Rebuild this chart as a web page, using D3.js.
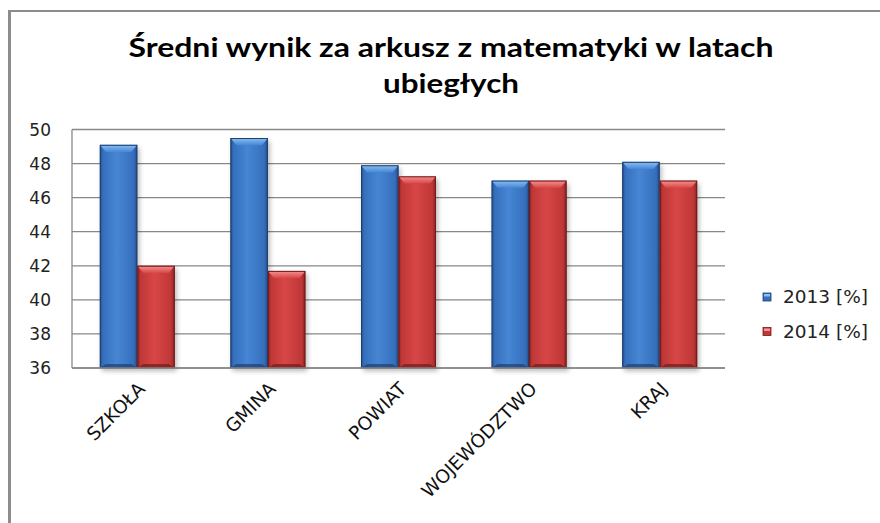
<!DOCTYPE html>
<html>
<head>
<meta charset="utf-8">
<script src="https://cdn.jsdelivr.net/npm/d3@7/dist/d3.min.js"></script>
<style>
  html, body { margin: 0; padding: 0; background: #fff; }
  svg { display: block; }
</style>
</head>
<body>
<svg id="chart" width="880" height="523"></svg>
<script>
// ---- data ----
const categories = ["SZKOŁA", "GMINA", "POWIAT", "WOJEWÓDZTWO", "KRAJ"];
const values2013 = [49.1, 49.5, 47.9, 47.0, 48.1];
const values2014 = [42.0, 41.7, 47.25, 47.0, 47.0];
const seriesNames = ["2013 [%]", "2014 [%]"];
const yTicks = [36, 38, 40, 42, 44, 46, 48, 50];
const titleLines = ["Średni wynik za arkusz z matematyki w latach", "ubiegłych"];

const seriesValues = [values2013, values2014];
const palette = [
  { dark: "#234d88", mid: "#356fbc", light: "#4686d4", cap: "#8cc0f2", base: "#1d3f72" },
  { dark: "#8a2222", mid: "#bf3737", light: "#d84646", cap: "#f49494", base: "#731a1a" }
];

const svg = d3.select("#chart");
const defs = svg.append("defs");

// outer chart border (visible left + top)
svg.append("line").attr("x1", 9.5).attr("x2", 9.5).attr("y1", 10).attr("y2", 523)
  .attr("stroke", "#8c8c8c").attr("stroke-width", 3);
svg.append("line").attr("x1", 8).attr("x2", 880).attr("y1", 11).attr("y2", 11)
  .attr("stroke", "#8c8c8c").attr("stroke-width", 2);

// scales
const plot = { left: 72, right: 725, top: 129.5, bottom: 368 };
const x0 = d3.scaleBand().domain(categories).range([plot.left, plot.right])
  .paddingInner(0.426).paddingOuter(0.213);
const x1 = d3.scaleBand().domain([0, 1]).range([0, x0.bandwidth()]).padding(0);
const y = d3.scaleLinear().domain([36, 50]).range([plot.bottom, plot.top]);

// gradients
palette.forEach((p, i) => {
  const g = defs.append("linearGradient").attr("id", "body" + i)
    .attr("x1", "0").attr("x2", "1").attr("y1", "0").attr("y2", "0");
  [[0, p.dark], [0.08, p.mid], [0.45, p.light], [0.9, p.mid], [1, p.dark]].forEach(s =>
    g.append("stop").attr("offset", s[0]).attr("stop-color", s[1]));
  const c = defs.append("linearGradient").attr("id", "cap" + i)
    .attr("x1", "0").attr("x2", "0").attr("y1", "0").attr("y2", "1");
  [[0, p.cap], [1, p.light]].forEach(s =>
    c.append("stop").attr("offset", s[0]).attr("stop-color", s[1]));
});
const blur = defs.append("filter").attr("id", "shadow")
  .attr("x", "-30%").attr("y", "-30%").attr("width", "160%").attr("height", "160%");
blur.append("feGaussianBlur").attr("stdDeviation", 2.5);

// gridlines
svg.append("g").selectAll("line").data(yTicks).join("line")
  .attr("x1", plot.left).attr("x2", plot.right)
  .attr("y1", d => y(d)).attr("y2", d => y(d))
  .attr("stroke", "#888").attr("stroke-width", 1.3);
// plot left border
svg.append("line").attr("x1", plot.left).attr("x2", plot.left)
  .attr("y1", y(50)).attr("y2", y(36)).attr("stroke", "#888").attr("stroke-width", 1.3);

// y labels
svg.append("g").selectAll("text").data(yTicks).join("text")
  .attr("x", 51).attr("y", d => y(d)).attr("dy", "0.36em")
  .attr("text-anchor", "end")
  .attr("font-family", "'DejaVu Sans', Verdana, sans-serif").attr("font-size", 17).attr("fill", "#222")
  .text(d => d);

// bars
const barData = [];
categories.forEach((c, ci) => {
  seriesValues.forEach((vals, si) => barData.push({ c, si, v: vals[ci] }));
});

const bars = svg.append("g");
// shadows
bars.selectAll("rect.sh").data(barData).join("rect").attr("class", "sh")
  .attr("x", d => x0(d.c) + x1(d.si) + 2)
  .attr("y", d => y(d.v) + 3)
  .attr("width", x1.bandwidth())
  .attr("height", d => y(36) - y(d.v))
  .attr("fill", "#000").attr("opacity", 0.28).attr("filter", "url(#shadow)");

const bar = bars.selectAll("g.bar").data(barData).join("g").attr("class", "bar");
bar.append("rect")
  .attr("x", d => x0(d.c) + x1(d.si))
  .attr("y", d => y(d.v))
  .attr("width", x1.bandwidth())
  .attr("height", d => y(36) - y(d.v))
  .attr("fill", d => `url(#body${d.si})`);
const bev = 6;
// top bevel cap
bar.append("path")
  .attr("d", d => {
    const xl = x0(d.c) + x1(d.si), xr = xl + x1.bandwidth(), yt = y(d.v);
    return `M${xl},${yt}L${xr},${yt}L${xr - bev},${yt + bev * 1.2}L${xl + bev},${yt + bev * 1.2}Z`;
  })
  .attr("fill", d => `url(#cap${d.si})`);
// bottom bevel
bar.append("path")
  .attr("d", d => {
    const xl = x0(d.c) + x1(d.si), xr = xl + x1.bandwidth(), yb = y(36);
    return `M${xl},${yb}L${xr},${yb}L${xr - bev},${yb - 4}L${xl + bev},${yb - 4}Z`;
  })
  .attr("fill", d => palette[d.si].base).attr("opacity", 0.7);
// outline
bar.append("rect")
  .attr("x", d => x0(d.c) + x1(d.si) + 0.5)
  .attr("y", d => y(d.v) + 0.5)
  .attr("width", x1.bandwidth() - 1)
  .attr("height", d => y(36) - y(d.v) - 1)
  .attr("fill", "none").attr("stroke", d => palette[d.si].base).attr("stroke-width", 1);

// x-axis baseline on top
svg.append("line").attr("x1", plot.left).attr("x2", plot.right)
  .attr("y1", y(36)).attr("y2", y(36)).attr("stroke", "#888").attr("stroke-width", 1.3);

// x labels
svg.append("g").selectAll("text").data(categories).join("text")
  .attr("transform", d => `translate(${x0(d) + x0.bandwidth() / 2 + 9},${390}) rotate(-45)`)
  .attr("text-anchor", "end")
  .attr("font-family", "'DejaVu Sans', Verdana, sans-serif").attr("font-size", 18.5).attr("fill", "#111")
  .text(d => d);

// legend
const leg = svg.append("g").selectAll("g").data(seriesNames).join("g")
  .attr("transform", (d, i) => `translate(763,${297 + i * 34.5})`);
leg.append("rect").attr("x", 0).attr("y", -4).attr("width", 8).attr("height", 8)
  .attr("fill", (d, i) => palette[i].mid).attr("stroke", (d, i) => palette[i].base).attr("stroke-width", 0.8);
leg.append("rect").attr("x", 1).attr("y", -3).attr("width", 6).attr("height", 2.5)
  .attr("fill", (d, i) => palette[i].cap);
leg.append("text").attr("x", 20).attr("y", 0).attr("dy", "0.36em")
  .attr("font-family", "'DejaVu Sans', Verdana, sans-serif").attr("font-size", 17).attr("fill", "#222")
  .attr("textLength", 85).attr("lengthAdjust", "spacingAndGlyphs")
  .text(d => d);

// title
const title = svg.append("g");
title.append("text").attr("x", 451).attr("y", 57).attr("text-anchor", "middle")
  .attr("font-family", "Lato").attr("font-weight", "bold").attr("font-size", 27)
  .attr("fill", "#000").attr("textLength", 645).attr("lengthAdjust", "spacingAndGlyphs")
  .text(titleLines[0]);
title.append("text").attr("x", 451).attr("y", 93).attr("text-anchor", "middle")
  .attr("font-family", "Lato").attr("font-weight", "bold").attr("font-size", 27)
  .attr("fill", "#000").attr("textLength", 136).attr("lengthAdjust", "spacingAndGlyphs")
  .text(titleLines[1]);
</script>
</body>
</html>
